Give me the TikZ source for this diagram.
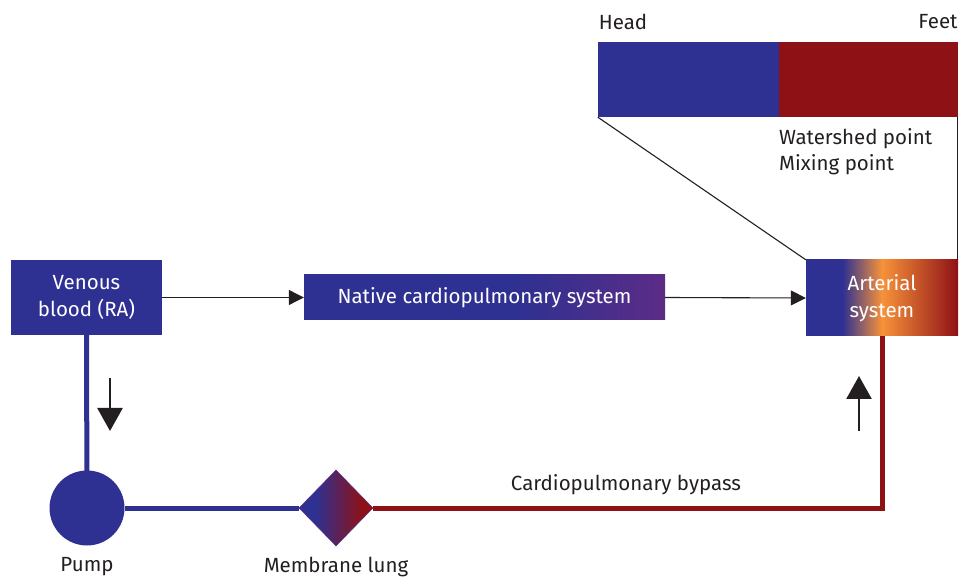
\documentclass[tikz,border=0pt]{standalone}
\usepackage{fontspec}
\setmainfont{Fira Sans}
\usetikzlibrary{shapes.geometric,arrows.meta}
\definecolor{cblue}{HTML}{2E3192}
\definecolor{cred}{HTML}{8E1116}
\definecolor{corange}{HTML}{F7923A}
\definecolor{cpurple}{HTML}{5B2C86}
\definecolor{ctext}{HTML}{231F20}
\pgfdeclarehorizontalshading{artshade}{100bp}{color(0bp)=(cblue); color(37bp)=(cblue); color(50bp)=(corange); color(75bp)=(cred); color(100bp)=(cred)}
\pgfdeclarehorizontalshading{natshade}{100bp}{color(0bp)=(cblue); color(54bp)=(cblue); color(75bp)=(cpurple); color(100bp)=(cpurple)}
\pgfdeclarehorizontalshading{lungshade}{100bp}{color(0bp)=(cblue); color(36bp)=(cblue); color(68bp)=(cred); color(100bp)=(cred)}
\tikzset{
  lbl/.style={font=\fontsize{20.5}{25}\selectfont, text=ctext, inner sep=0pt},
  boxtxt/.style={font=\fontsize{20.5}{27}\selectfont, text=white, align=center, inner sep=0pt},
  blk/.style={rectangle, inner sep=0pt},
  conn/.style={draw=ctext, line width=1.1pt, -{Triangle[width=15pt,length=15pt]}},
  flow/.style={draw=ctext, line width=2.5pt, -{Triangle[width=25pt,length=23pt]}},
  blueline/.style={draw=cblue, line width=5pt},
  redline/.style={draw=cred, line width=5pt},
  thin/.style={draw=ctext, line width=1.1pt}
}
\begin{document}
\begin{tikzpicture}[x=1pt,y=-1pt]
\useasboundingbox (0,0) rectangle (970,577);
% boxes
\node[blk, fill=cblue, minimum width=151pt, minimum height=75pt, boxtxt] (venous) at (86.5,297.5) {Venous\\blood (RA)};
\node[blk, shading=natshade, minimum width=361pt, minimum height=45pt, boxtxt] (native) at (484.5,297.5) {Native cardiopulmonary system};
\node[blk, shading=artshade, minimum width=152pt, minimum height=76pt, boxtxt] (art) at (882,298) {Arterial\\system};
% bar
\node[blk, fill=cblue, minimum width=181pt, minimum height=75pt] (headbar) at (688.5,79.5) {};
\node[blk, fill=cred, minimum width=179pt, minimum height=75pt] (feetbar) at (868.5,79.5) {};
\node[lbl] (head) at (623,22) {Head};
\node[lbl] (feet) at (938,22) {Feet};
\node[lbl, anchor=west, align=left, font=\fontsize{20.5}{26}\selectfont] (water) at (779,152) {Watershed point\\Mixing point};
% pump and lung
\node[circle, fill=cblue, minimum size=75pt, inner sep=0pt] (pump) at (87,508) {};
\node[diamond, draw=cpurple, line width=0.6pt, shading=lungshade, inner sep=0pt, minimum width=74pt, minimum height=76pt] (lung) at (336,508) {};
\node[lbl] (pumplbl) at (87,567) {Pump};
\node[lbl] (lunglbl) at (336,567) {Membrane lung};
\node[lbl] (cpb) at (626,485) {Cardiopulmonary bypass};
% circuits
\draw[blueline] (venous.south) -- (pump.center);
\draw[blueline] (pump) -- (lung.west);
\draw[redline] (lung.east) -| (art.south);
% connectors
\draw[conn] (venous.east) -- (native.west);
\draw[conn] (native.east) -- (art.west);
\draw[thin] (headbar.south west) -- (art.north west);
\draw[thin] ([xshift=-1pt]feetbar.south east) -- ([xshift=-1pt]art.north east);
% flow arrows
\coordinate (d1) at (110,378);
\coordinate (d2) at (110,431);
\coordinate (u1) at (859,431);
\coordinate (u2) at (859,376);
\draw[flow] (d1) -- (d2);
\draw[flow] (u1) -- (u2);
\end{tikzpicture}
\end{document}
